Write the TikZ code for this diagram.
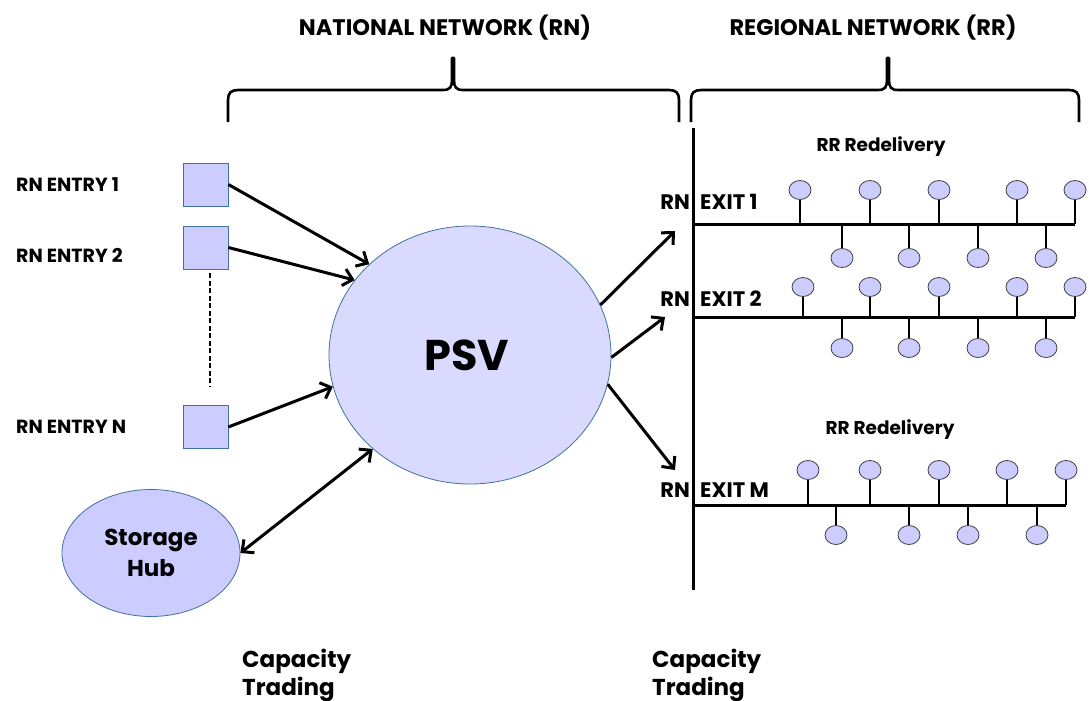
\documentclass[tikz,border=0pt]{standalone}
\usepackage{fontspec}
\setmainfont{Poppins}
\usetikzlibrary{shapes.geometric,arrows.meta}
\definecolor{fillc}{HTML}{CCCCFF}
\definecolor{psvfill}{HTML}{DADAFF}
\definecolor{edgec}{HTML}{41719C}
\newcommand\fs[1]{\fontsize{#1}{#1}\selectfont\bfseries}
\newcommand\toppin[4]{%
  \node[balloon] (#1) at (#2,#4) {};
  \coordinate (#1s) at (#2,#3);
  \draw[stem] (#1s) -- (#1.south);}
\newcommand\botpin[4]{%
  \node[balloon] (#1) at (#2,#4) {};
  \coordinate (#1s) at (#2,#3);
  \draw[stem] (#1s) -- (#1.north);}
\begin{document}
\begin{tikzpicture}[x=1pt,y=-1pt,
  entrybox/.style={draw=edgec, fill=fillc, minimum width=45pt, minimum height=43pt, inner sep=0pt, line width=0.8pt},
  conn/.style={line width=3pt, -{Straight Barb[length=9pt,width=17pt]}},
  dconn/.style={line width=3pt, {Straight Barb[length=9pt,width=17pt]}-{Straight Barb[length=9pt,width=17pt]}},
  balloon/.style={ellipse, draw=black!75, fill=fillc, minimum width=22pt, minimum height=19pt, inner sep=0pt, line width=0.8pt},
  stem/.style={line width=1.8pt},
  bus/.style={line width=3pt},
  bracepath/.style={line width=2.6pt, line join=round},
  lbl/.style={inner sep=0pt}
]
\useasboundingbox (0,0) rectangle (1089,701);

% titles
\node[lbl, anchor=base] (tn) at (445,36) {\fs{22.5}NATIONAL NETWORK (RN)};
\node[lbl, anchor=base] (tr) at (873,36) {\fs{22.5}REGIONAL NETWORK (RR)};

% braces
\draw[bracepath] (228,122) -- (228,100) .. controls (228,93) and (231,90) .. (238,90) -- (443,90)
  .. controls (450,90) and (452,87) .. (452,80) -- (452,58) -- (454,58) -- (454,80)
  .. controls (454,87) and (456,90) .. (463,90) -- (669,90) .. controls (676,90) and (679,93) .. (679,100) -- (679,122);
\draw[bracepath] (691,122) -- (691,100) .. controls (691,93) and (694,90) .. (701,90) -- (878,90)
  .. controls (885,90) and (887,87) .. (887,80) -- (887,58) -- (889,58) -- (889,80)
  .. controls (889,87) and (891,90) .. (898,90) -- (1069,90) .. controls (1076,90) and (1079,93) .. (1079,100) -- (1079,122);

% entries
\node[entrybox] (e1) at (205.5,184.5) {};
\node[entrybox] (e2) at (205.5,247.5) {};
\node[entrybox] (eN) at (205.5,427) {};
\node[lbl, anchor=base west] (le1) at (16,191) {\fs{19}RN ENTRY 1};
\node[lbl, anchor=base west] (le2) at (16,262) {\fs{19}RN ENTRY 2};
\node[lbl, anchor=base west] (leN) at (16,433) {\fs{19}RN ENTRY N};
\path (e2.south) ++(4.5,4) coordinate (d1) (eN.north) ++(4.5,-18) coordinate (d2);
\draw[line width=1.5pt, dash pattern=on 5pt off 2.5pt] (d1) -- (d2);

% PSV
\node[ellipse, draw=edgec, fill=psvfill, line width=0.8pt, minimum width=282pt, minimum height=258pt, inner sep=0pt] (psv) at (470,355) {};
\node[lbl] (psvt) at (467,355) {\fs{43}PSV};

% storage
\node[ellipse, draw=edgec, fill=fillc, line width=0.8pt, minimum width=178pt, minimum height=127pt, inner sep=0pt, align=center] (sh) at (151,553) {\fs{23}Storage\\[6pt]\fs{23}Hub};

% arrows in
\draw[conn] (e1.east) -- (psv.138);
\draw[conn] (e2.east) -- (psv.147);
\draw[conn] (eN.east) -- (psv.193);
\draw[dconn] (sh.east) -- (psv.224);

% trunk
\coordinate (vt) at (693,128);
\coordinate (vb) at (693,590);
\draw[bus] (vt) -- (vb);

% exit arrows
\coordinate (x1) at (675,231);
\coordinate (x2) at (665,317);
\coordinate (xM) at (675,470);
\draw[conn] (psv.21) -- (x1);
\draw[conn] (psv.-1) -- (x2);
\draw[conn] (psv.-12) -- (xM);

% exit labels
\node[lbl, anchor=base east] (rn1) at (690,209) {\fs{21}RN};
\node[lbl, anchor=base west] (ex1) at (700,209) {\fs{21}EXIT 1};
\node[lbl, anchor=base east] (rn2) at (690,306) {\fs{21}RN};
\node[lbl, anchor=base west] (ex2) at (700,306) {\fs{21}EXIT 2};
\node[lbl, anchor=base east] (rnM) at (690,497) {\fs{21}RN};
\node[lbl, anchor=base west] (exM) at (700,497) {\fs{21}EXIT M};

\node[lbl, anchor=base] (rr1) at (881,151) {\fs{18.5}RR Redelivery};
\node[lbl, anchor=base] (rr2) at (890,434) {\fs{18.5}RR Redelivery};

% exit 1 bus
\coordinate (l1a) at (693,224);
\coordinate (l1b) at (1075,224);
\draw[bus] (l1a) -- (l1b);
\foreach \x [count=\i] in {800,870,939,1017,1075} {\toppin{a\i}{\x}{224}{190}}
\foreach \x [count=\i] in {842,909,978,1046} {\botpin{b\i}{\x}{224}{258}}

% exit 2 bus
\coordinate (l2a) at (693,317);
\coordinate (l2b) at (1075,317);
\draw[bus] (l2a) -- (l2b);
\foreach \x [count=\i] in {803,870,939,1017,1075} {\toppin{c\i}{\x}{317}{287}}
\foreach \x [count=\i] in {842,909,978,1046} {\botpin{d\i}{\x}{317}{348}}

% exit M bus
\coordinate (l3a) at (693,505);
\coordinate (l3b) at (1066,505);
\draw[bus] (l3a) -- (l3b);
\foreach \x [count=\i] in {808,870,939,1007,1066} {\toppin{f\i}{\x}{505}{470}}
\foreach \x [count=\i] in {836,909,968,1037} {\botpin{g\i}{\x}{505}{535}}

% capacity trading
\node[lbl, anchor=base west, align=left] (ct1) at (242,667) {\fs{23}Capacity};
\node[lbl, anchor=base west, align=left] (ct1b) at (242,695) {\fs{23}Trading};
\node[lbl, anchor=base west, align=left] (ct2) at (652,667) {\fs{23}Capacity};
\node[lbl, anchor=base west, align=left] (ct2b) at (652,695) {\fs{23}Trading};
\end{tikzpicture}
\end{document}
